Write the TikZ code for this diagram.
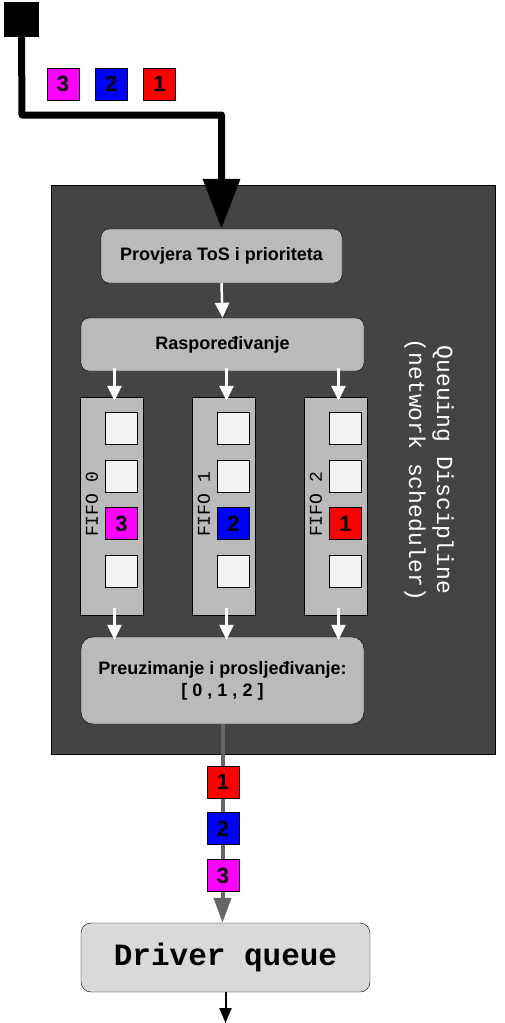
\documentclass[tikz,border=0pt]{standalone}
\usepackage{fontspec}
\setmainfont{Liberation Sans}
\setmonofont{Liberation Mono}
\usepackage{tikz}
\usetikzlibrary{positioning,arrows.meta}

\definecolor{qdiscgrey}{HTML}{444444}
\definecolor{boxgrey}{HTML}{BABABA}
\definecolor{slotgrey}{HTML}{F2F2F2}
\definecolor{drvgrey}{HTML}{D9D9D9}
\definecolor{linegrey}{HTML}{666666}
\definecolor{pktmagenta}{HTML}{FF00FF}
\definecolor{pktblue}{HTML}{0000FF}
\definecolor{pktred}{HTML}{FF0000}

\begin{document}
\begin{tikzpicture}[x=1pt, y=-1pt, >={Triangle[length=15pt,width=14pt]}]
  \useasboundingbox (0,0) rectangle (505,1023);

  \tikzset{grey_box/.style={draw=black, fill=boxgrey, rounded corners=8pt, inner sep=0pt, align=center,
      font=\fontsize{18}{22}\selectfont\bfseries}}
  \tikzset{packet/.style={draw=black, minimum size=32pt, inner sep=0pt, font=\fontsize{22}{22}\selectfont\bfseries}}
  \tikzset{slot/.style={packet, fill=slotgrey}}
  \tikzset{white_arrow/.style={->, draw=white, line width=2.5pt}}

  % source and incoming packets
  \node[draw, fill=black, minimum size=34pt, inner sep=0pt] (src) at (21.5,19.5) {};
  \node[packet, fill=pktmagenta] (in3) at (63,84) {3};
  \node[packet, fill=pktblue] (in2) at (111.5,84) {2};
  \node[packet, fill=pktred] (in1) at (159.5,84) {1};

  % queuing discipline
  \node[draw=black, fill=qdiscgrey, minimum width=444pt, minimum height=569pt, inner sep=0pt] (qdisc) at (273,469.5) {};
  \node[rotate=-90, align=center, text=white, font=\fontsize{23}{28}\selectfont\ttfamily] (qlabel) at (429,470)
    {Queuing Discipline\\(network scheduler)};

  \node[grey_box, minimum width=241pt, minimum height=54pt] (check) at (221.5,256) {Provjera ToS i prioriteta};
  \node[grey_box, minimum width=283pt, minimum height=53pt] (sched) at (222.5,344.5) {Raspoređivanje};
  \node[grey_box, rounded corners=12pt, minimum width=283pt, minimum height=87pt] (fwd) at (222.5,680.5)
    {Preuzimanje i prosljeđivanje:\\{[} 0 , 1 , 2 {]}};

  \coordinate (turn) at (22,115);
  \draw[line width=7pt, line join=round, -{Triangle[length=50pt,width=36pt]}] (src.south) -- (turn) -| (check.north);
  \draw[white_arrow] (check.south) -- (sched.north);

  % FIFOs
  \foreach \i/\x/\col/\num in {0/111.5/pktmagenta/3, 1/223.5/pktblue/2, 2/335.5/pktred/1} {
    \node[draw=black, fill=boxgrey, minimum width=63pt, minimum height=218pt, inner sep=0pt] (fifo\i) at (\x,506) {};
    \node[rotate=90, font=\fontsize{18}{18}\selectfont\ttfamily] (fifolabel\i) at (\x-19.5,504.5) {FIFO \i};
    \foreach \k in {0,1,3}
      \node[slot] (slot\i\k) at (\x+10,428+47.8*\k) {};
    \node[packet, fill=\col] (slot\i2) at (\x+10,523.6) {\num};
    \draw[white_arrow] ([xshift=3pt, yshift=3pt]fifo\i.north |- sched.south) -- ([xshift=3pt, yshift=-4pt]fifo\i.north);
    \draw[white_arrow] ([xshift=3pt, yshift=7pt]fifo\i.south) -- ([xshift=3pt, yshift=-3pt]fifo\i.south |- fwd.north);
  }

  % driver queue
  \node[draw=black, fill=drvgrey, rounded corners=10pt, minimum width=289pt, minimum height=69pt,
    font=\fontsize{31}{31}\selectfont\ttfamily\bfseries] (drv) at (225.5,957.5) {Driver queue};

  \draw[line width=4pt, linegrey, -{Triangle[length=25pt,width=17pt]}] (fwd.south) -- (fwd.south |- drv.north);
  \node[packet, fill=pktred] (out1) at (223,782) {1};
  \node[packet, fill=pktblue] (out2) at (223,828.5) {2};
  \node[packet, fill=pktmagenta] (out3) at (223,875.5) {3};

  \coordinate (exit) at (drv.south |- 0,1023);
  \draw[line width=2pt, -{Triangle[length=15pt,width=12pt]}] (drv.south) -- (exit);
\end{tikzpicture}
\end{document}
